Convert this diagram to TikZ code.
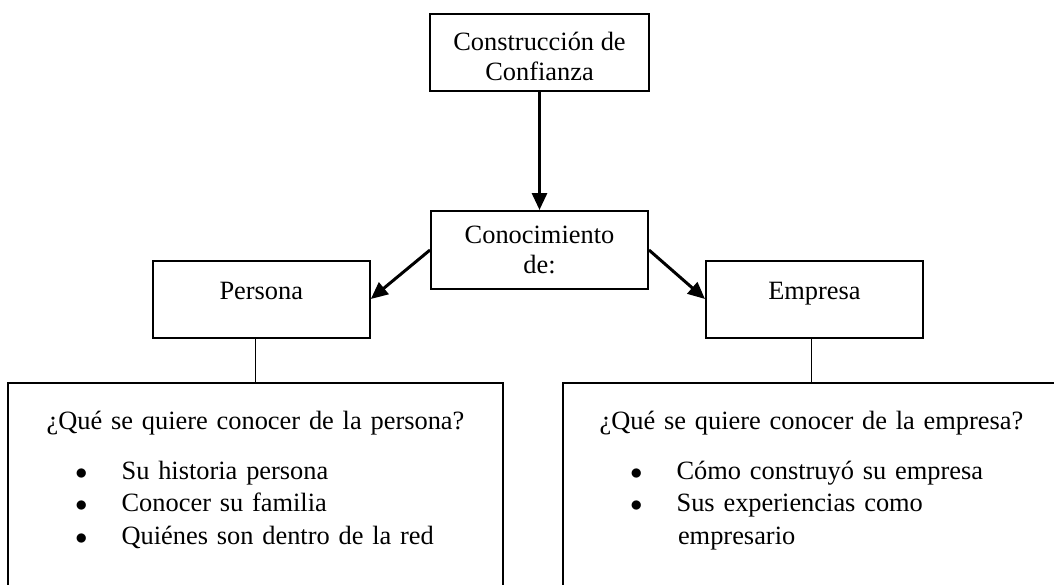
\documentclass[tikz,border=0pt]{standalone}
\usepackage{fontspec}
\setmainfont{Liberation Serif}
\usetikzlibrary{arrows.meta, positioning}

\tikzset{
  box/.style={draw, line width=1pt, inner sep=0pt, align=center},
  conn/.style={line width=1.5pt, -{Triangle[length=8.5pt, width=7.5pt]}},
  link/.style={line width=0.7pt},
  listbox/.style={draw, line width=1pt, inner sep=0pt, anchor=north,
                  text width=247.5pt, align=left,
                  font=\fontsize{13.2}{16.25}\selectfont}
}
\newcommand{\bulletitem}[1]{\hspace*{33.7pt}\makebox[23.1pt][l]{$\bullet$}#1}

\begin{document}
\begin{tikzpicture}[x=0.5pt, y=-0.5pt, font=\fontsize{13.2}{15}\selectfont]
    \path[use as bounding box, clip] (0,0) rectangle (1054,584);

    \node[box, minimum width=109.5pt, minimum height=38.5pt, text height=27.8pt] (confianza) at (539.5,52.5)
        {Construcción de\\Confianza};
    \node[box, minimum width=108.5pt, minimum height=39pt, below=59pt of confianza] (conocimiento)
        {Conocimiento\\de:};

    \node[box, minimum width=108.5pt, minimum height=38.5pt, text height=9pt, text depth=9pt]
        (persona) at (261.3,299) {Persona};
    \node[box, minimum width=108.5pt, minimum height=38.5pt, text height=9pt, text depth=9pt]
        (empresa) at (814.5,299) {Empresa};

    % what one wants to know
    \node[listbox] (quepersona) at (255.5,382) {%
        \makebox[\hsize]{\rule{0pt}{23pt}¿Qué se quiere conocer de la persona?}\\[8.75pt]
        \bulletitem{Su historia persona}\\
        \bulletitem{Conocer su familia}\\
        \bulletitem{Quiénes son dentro de la red}\rule[-30pt]{0pt}{30pt}
    };
    \node[listbox, text width=248.5pt] (queempresa) at (811.5,382) {%
        \makebox[\hsize]{\rule{0pt}{23pt}¿Qué se quiere conocer de la empresa?}\\[8.75pt]
        \bulletitem{Cómo construyó su empresa}\\
        \bulletitem{Sus experiencias como}\\
        \hspace*{57.5pt}empresario\rule[-30pt]{0pt}{30pt}
    };

    \draw[conn] (confianza) -- (conocimiento);
    \draw[conn] (conocimiento.west) -- (persona.east);
    \draw[conn] (conocimiento.east) -- (empresa.west);
    \draw[link] (persona.south -| quepersona.north) -- (quepersona.north);
    \draw[link] (empresa.south -| queempresa.north) -- (queempresa.north);
\end{tikzpicture}
\end{document}
